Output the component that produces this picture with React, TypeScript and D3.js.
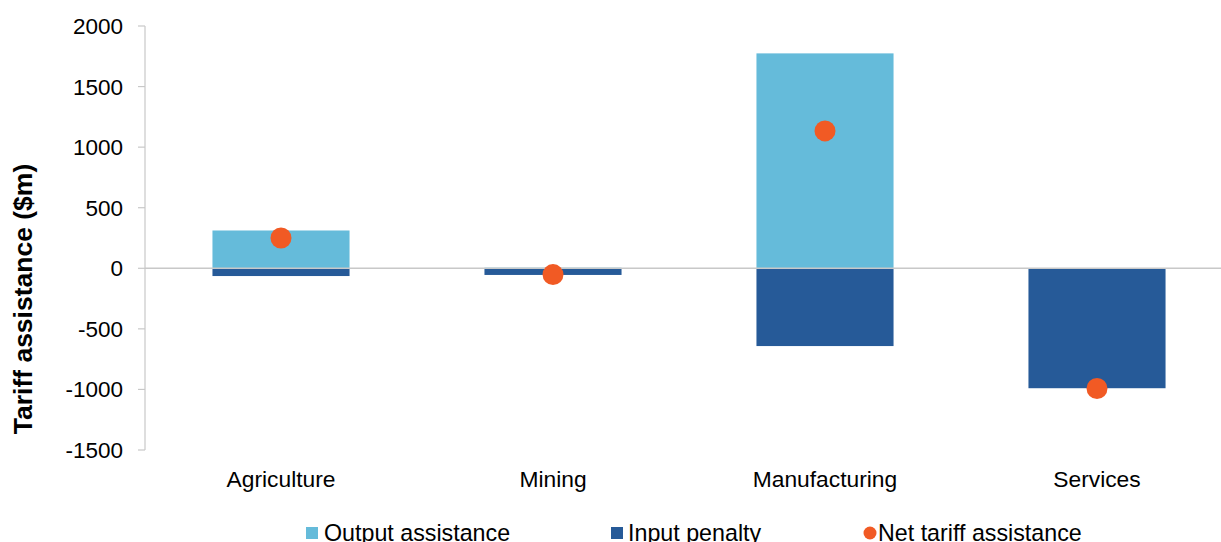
import React from "react";
import * as d3 from "d3";

const categories = ["Agriculture", "Mining", "Manufacturing", "Services"];
const outputAssistance = [312, 5, 1774, 0];
const inputPenalty = [-64, -55, -642, -990];
const netAssistance = [250, -52, 1134, -992];
const yTicks = [2000, 1500, 1000, 500, 0, -500, -1000, -1500];
const legendLabels = ["Output assistance", "Input penalty", "Net tariff assistance"];

const W = 1221, H = 542;
const C_OUT = "#65BBDA", C_IN = "#265A98", C_NET = "#F15A24", AXIS = "#C8C8C8";
const FONT = "Liberation Sans, Arial, sans-serif";

export default function App() {
  const x = d3.scaleBand<string>().domain(categories).range([145, 1233]).paddingInner(0.496).paddingOuter(0.248);
  const y = d3.scaleLinear().domain([-1500, 2000]).range([450, 26]);
  const bw = x.bandwidth();
  return (
    <svg width={W} height={H} style={{ position: "absolute", left: 0, top: 0, background: "#fff" }} fontFamily={FONT}>
      {categories.map((c, i) => (
        <g key={c}>
          <rect x={x(c)} y={y(outputAssistance[i])} width={bw} height={y(0) - y(outputAssistance[i])} fill={C_OUT} />
          <rect x={x(c)} y={y(0)} width={bw} height={y(inputPenalty[i]) - y(0)} fill={C_IN} />
        </g>
      ))}
      <line x1={145} x2={W} y1={y(0)} y2={y(0)} stroke={AXIS} strokeWidth={1.5} />
      <line x1={145} x2={145} y1={y(2000)} y2={y(-1500)} stroke={AXIS} strokeWidth={1.2} />
      {yTicks.map((t) => (
        <g key={t}>
          <line x1={138} x2={145} y1={y(t)} y2={y(t)} stroke={AXIS} strokeWidth={1.2} />
          <text x={123} y={y(t)} dy="0.355em" textAnchor="end" fontSize={22.5} fill="#000">{t}</text>
        </g>
      ))}
      {categories.map((c, i) => (
        <circle key={c} cx={(x(c) as number) + bw / 2} cy={y(netAssistance[i])} r={10.5} fill={C_NET} />
      ))}
      {categories.map((c) => (
        <text key={c} x={(x(c) as number) + bw / 2} y={486.5} textAnchor="middle" fontSize={22.8} fill="#000">{c}</text>
      ))}
      <text transform={`translate(32,${299}) rotate(-90)`} textAnchor="middle" fontSize={26.5} fontWeight="bold" fill="#000">Tariff assistance ($m)</text>
      <g>
        <rect x={306} y={527} width={12} height={12} fill={C_OUT} />
        <text x={324} y={541.3} fontSize={23.25} fill="#000">{legendLabels[0]}</text>
        <rect x={611} y={527} width={12} height={12} fill={C_IN} />
        <text x={628} y={541.3} fontSize={23.25} fill="#000">{legendLabels[1]}</text>
        <circle cx={870} cy={533} r={6.5} fill={C_NET} />
        <text x={878} y={541.3} fontSize={23.25} fill="#000">{legendLabels[2]}</text>
      </g>
    </svg>
  );
}
